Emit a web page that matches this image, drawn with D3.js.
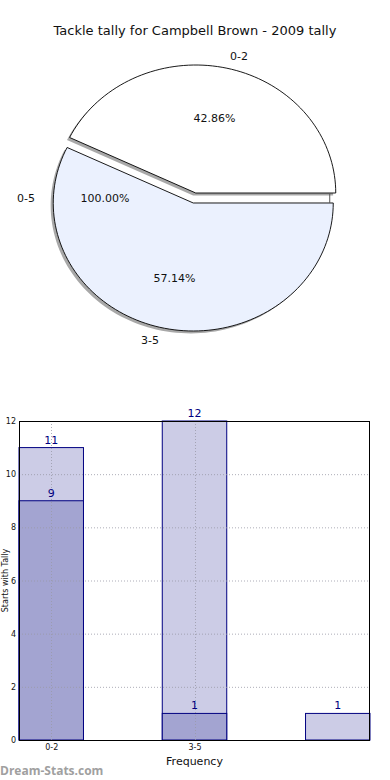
<!DOCTYPE html>
<html>
<head>
<meta charset="utf-8">
<script src="https://cdn.jsdelivr.net/npm/d3@7"></script>
<style>
  html, body { margin: 0; padding: 0; background: #fff; }
  svg { display: block; font-family: "DejaVu Sans", sans-serif; }
</style>
</head>
<body>
<svg id="chart" width="390" height="780"></svg>
<script>
// pie: share of each tackle band; the zero band sits on the left with its own label angle
const pieLabels = ['0-2', '3-5', '0-5'];
const pieShares = [42.86, 57.14, 0];
const piePctText = ['42.86%', '57.14%', '100.00%'];
const pieColors = ['#ffffff', '#ebf1fe', '#ffffff'];
const zeroSliceAngle = 180; // degrees, matplotlib convention

// bars: games per band, back (light) and front (dark) series
const barCats = ['0-2', '3-5', ''];
const backValues = [11, 12, 1];
const frontValues = [9, 1, 0];
const yTicks = [0, 2, 4, 6, 8, 10, 12];

const svg = d3.select('#chart');
const NAVY = '#000080';

svg.append('text')
    .attr('x', 195).attr('y', 34.5)
    .attr('text-anchor', 'middle')
    .attr('font-size', 13)
    .attr('fill', '#111')
    .text('Tackle tally for Campbell Brown - 2009 tally');

// ---- pie (ellipse because the axes are not square) ----
const cx = 194.5, cy = 198, rx = 140, ry = 128;
const explode = 0.04;
const rad = (deg) => deg * Math.PI / 180;

const total = d3.sum(pieShares);
let acc = 0;
const slices = pieLabels.map((label, i) => {
    const a0 = acc / total * 360;
    acc += pieShares[i];
    const a1 = acc / total * 360;
    const mid = pieShares[i] === 0 ? zeroSliceAngle : (a0 + a1) / 2;
    return { label, i, a0, a1, mid };
});

// wedge path in pixel space, angles counterclockwise from 3 o'clock
function wedge(s, ox, oy) {
    const px = cx + ox + explode * rx * Math.cos(rad(s.mid));
    const py = cy + oy - explode * ry * Math.sin(rad(s.mid));
    const p = d3.path();
    p.moveTo(px, py);
    const n = Math.max(2, Math.ceil((s.a1 - s.a0) / 2));
    for (let k = 0; k <= n; k++) {
        const a = rad(s.a0 + (s.a1 - s.a0) * k / n);
        p.lineTo(px + rx * Math.cos(a), py - ry * Math.sin(a));
    }
    p.closePath();
    return p.toString();
}

const real = slices.filter((s) => pieShares[s.i] > 0);
const gPie = svg.append('g');

gPie.selectAll('path.shadow').data(real).join('path')
    .attr('class', 'shadow')
    .attr('d', (s) => wedge(s, -2.6, 2.4))
    .attr('fill', '#6e6e6e')
    .attr('opacity', 0.6)
    .attr('stroke', 'none');

gPie.selectAll('path.slice').data(real).join('path')
    .attr('class', 'slice')
    .attr('d', (s) => wedge(s, 0, 0))
    .attr('fill', (s) => pieColors[s.i])
    .attr('stroke', '#000')
    .attr('stroke-width', 0.9)
    .attr('stroke-linejoin', 'miter');

// the small edge stub showing in the gap on the right
gPie.append('line')
    .attr('x1', cx + rx * 0.966).attr('x2', cx + rx * 0.966)
    .attr('y1', cy - 4.5).attr('y2', cy + 5)
    .attr('stroke', '#555').attr('stroke-width', 1);

slices.forEach((s) => {
    const c = Math.cos(rad(s.mid)), sn = Math.sin(rad(s.mid));
    const ox = cx + explode * rx * c, oy = cy - explode * ry * sn;
    svg.append('text')
        .attr('x', ox + 1.1 * rx * c)
        .attr('y', oy - 1.1 * ry * sn)
        .attr('dy', '0.35em')
        .attr('text-anchor', c > 0 ? 'start' : 'end')
        .attr('font-size', 11).attr('fill', '#111')
        .text(s.label);
    svg.append('text')
        .attr('x', ox + 0.6 * rx * c)
        .attr('y', oy - 0.6 * ry * sn)
        .attr('dy', '0.35em')
        .attr('text-anchor', 'middle')
        .attr('font-size', 11).attr('fill', '#111')
        .text(piePctText[s.i]);
});

// ---- bar chart ----
const L = 19, R = 370, T = 421, B = 740;
const barW = 0.45;
const x = d3.scaleLinear().domain([-barW / 2, 2 + barW / 2]).range([L, R]);
const y = d3.scaleLinear().domain([0, 12]).range([B, T]);
const gBar = svg.append('g');

function drawBars(values, fill, cls) {
    gBar.selectAll('rect.' + cls).data(values).join('rect')
        .attr('class', cls)
        .filter((v) => v > 0)
        .attr('x', (v, i) => x(i - barW / 2))
        .attr('width', x(barW) - x(0))
        .attr('y', (v) => y(v))
        .attr('height', (v) => y(0) - y(v))
        .attr('fill', fill)
        .attr('stroke', NAVY)
        .attr('stroke-width', 1);
}
drawBars(backValues, '#ccccE6', 'back');
drawBars(frontValues, '#a3a4d1', 'front');

// grid on top of the bars
const grid = svg.append('g')
    .attr('stroke', '#9a9aa8').attr('stroke-width', 1)
    .attr('stroke-dasharray', '1,2').attr('opacity', 0.8);
grid.selectAll('line.h').data(yTicks.slice(1, -1)).join('line')
    .attr('x1', L).attr('x2', R)
    .attr('y1', (d) => y(d) + 0.5).attr('y2', (d) => y(d) + 0.5);
grid.selectAll('line.v').data([0, 1]).join('line')
    .attr('y1', T).attr('y2', B)
    .attr('x1', (d) => Math.round(x(d)) + 0.5).attr('x2', (d) => Math.round(x(d)) + 0.5);

// value labels
const labelRows = [];
backValues.forEach((v, i) => { if (v > 0) labelRows.push({ i, v }); });
frontValues.forEach((v, i) => { if (v > 0) labelRows.push({ i, v }); });
svg.append('g').selectAll('text').data(labelRows).join('text')
    .attr('x', (d) => x(d.i))
    .attr('y', (d) => y(d.v) - 4)
    .attr('text-anchor', 'middle')
    .attr('font-size', 11)
    .attr('fill', NAVY)
    .text((d) => d.v);

// frame
svg.append('rect')
    .attr('x', L + 0.5).attr('y', T + 0.5)
    .attr('width', R - L - 1).attr('height', B - T)
    .attr('fill', 'none').attr('stroke', '#000').attr('stroke-width', 1);

// y axis
const yAxis = svg.append('g').attr('transform', `translate(${L},0)`)
    .call(d3.axisLeft(y).tickValues(yTicks).tickSize(0).tickPadding(3));
yAxis.select('.domain').remove();
yAxis.selectAll('text').attr('font-size', 8).attr('fill', '#111')
    .attr('font-family', '"DejaVu Sans", sans-serif');

// x axis
const xAxis = svg.append('g').attr('transform', `translate(0,${B})`)
    .call(d3.axisBottom(x).tickValues([0, 1]).tickFormat((d) => barCats[d]).tickSize(0).tickPadding(4));
xAxis.select('.domain').remove();
xAxis.selectAll('text').attr('font-size', 8).attr('fill', '#111')
    .attr('font-family', '"DejaVu Sans", sans-serif');

svg.append('text')
    .attr('x', x(1)).attr('y', 765)
    .attr('text-anchor', 'middle')
    .attr('font-size', 11).attr('fill', '#111')
    .text('Frequency');

svg.append('text')
    .attr('transform', `translate(8,${(T + B) / 2}) rotate(-90)`)
    .attr('text-anchor', 'middle')
    .attr('font-size', 8).attr('fill', '#111')
    .text('Starts with Tally');

svg.append('text')
    .attr('x', 0).attr('y', 775)
    .attr('font-size', 12).attr('font-weight', 'bold')
    .attr('fill', '#a0a0a0')
    .attr('font-family', '"Open Sans", "DejaVu Sans", sans-serif')
    .text('Dream-Stats.com');
</script>
</body>
</html>
